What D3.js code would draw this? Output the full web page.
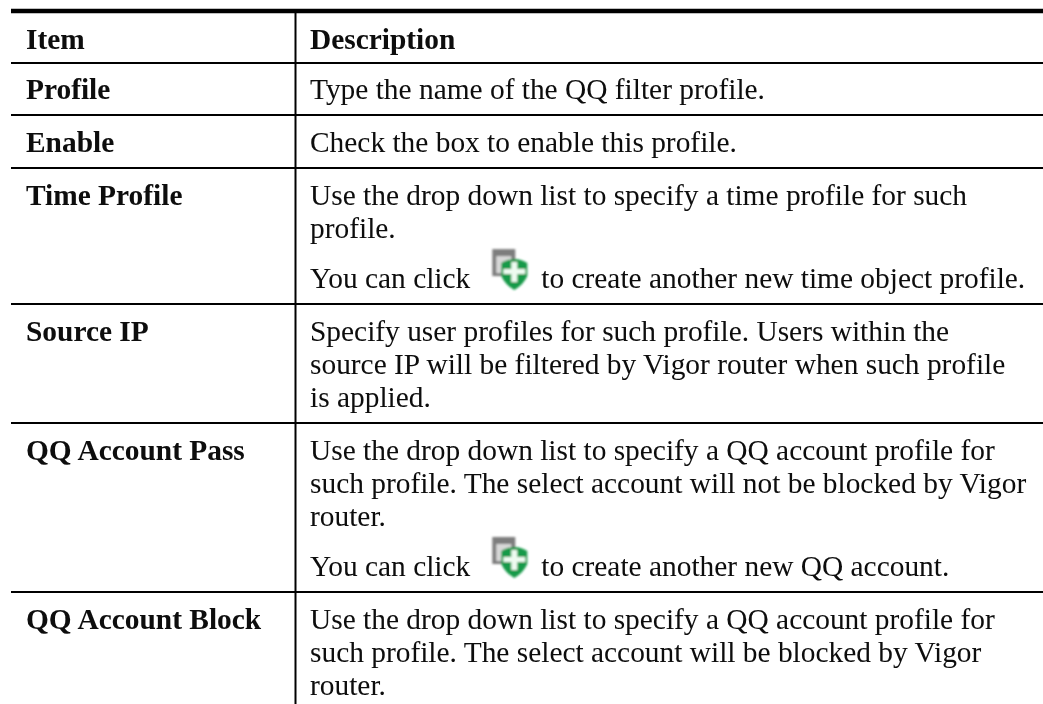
<!DOCTYPE html>
<html>
<head>
<meta charset="utf-8">
<script src="https://cdn.jsdelivr.net/npm/d3@7"></script>
<style>
html, body { margin: 0; padding: 0; background: #fff; }
svg { display: block; }
text { font-family: "Liberation Serif", serif; fill: #0a0a0a; }
</style>
</head>
<body>
<script>
var w = 1043;
var h = 704;

var headers = ["Item", "Description"];
var items = ["Profile", "Enable", "Time Profile", "Source IP", "QQ Account Pass", "QQ Account Block"];
// each description is a list of paragraphs, each paragraph a list of lines
var descriptions = [
    [["Type the name of the QQ filter profile."]],
    [["Check the box to enable this profile."]],
    [["Use the drop down list to specify a time profile for such", "profile."],
     [["You can click", "to create another new time object profile."]]],
    [["Specify user profiles for such profile. Users within the",
      "source IP will be filtered by Vigor router when such profile",
      "is applied."]],
    [["Use the drop down list to specify a QQ account profile for",
      "such profile. The select account will not be blocked by Vigor",
      "router."],
     [["You can click", "to create another new QQ account."]]],
    [["Use the drop down list to specify a QQ account profile for",
      "such profile. The select account will be blocked by Vigor",
      "router."]]
];

// layout
var left = 11;
var divider = 295.5;
var itemX = 26;
var descX = 310;
var topRule = 11;
var headerBottom = 62.7;
var fontSize = 29.4;
var firstBaseline = 36.5;
var linePitch = 33;
var paraGap = 17.5;
var bottomPad = 16.2;
var iconLeft = 22;
var iconGap = 71;

var svg = d3.select("body")
    .append("svg")
    .attr("width", w)
    .attr("height", h);

var defs = svg.append("defs");
defs.append("filter")
    .attr("id", "soft")
    .append("feGaussianBlur")
    .attr("stdDeviation", 1.3);
defs.append("filter")
    .attr("id", "softText")
    .append("feGaussianBlur")
    .attr("stdDeviation", 0.3);

function rowHeight(paras) {
    var lines = d3.sum(paras, function (p) { return p.length; });
    return firstBaseline + (lines - 1) * linePitch + (paras.length - 1) * paraGap + bottomPad;
}

var heights = descriptions.map(rowHeight);
var tops = [];
heights.reduce(function (y, v, i) {
    tops[i] = y;
    return y + v;
}, headerBottom);

// rules
svg.append("line")
    .attr("x1", left).attr("x2", w)
    .attr("y1", topRule).attr("y2", topRule)
    .attr("stroke", "black")
    .attr("stroke-width", 4.5);

svg.append("line")
    .attr("x1", divider).attr("x2", divider)
    .attr("y1", topRule).attr("y2", h)
    .attr("stroke", "black")
    .attr("stroke-width", 2);

svg.selectAll("line.row")
    .data(tops)
    .enter()
    .append("line")
    .attr("class", "row")
    .attr("x1", left).attr("x2", w)
    .attr("y1", function (d) { return Math.round(d); })
    .attr("y2", function (d) { return Math.round(d); })
    .attr("stroke", "black")
    .attr("stroke-width", 2);

var page = svg.append("g").attr("filter", "url(#softText)");

// header
page.selectAll("text.head")
    .data(headers)
    .enter()
    .append("text")
    .attr("class", "head")
    .attr("x", function (d, i) { return i === 0 ? itemX : descX; })
    .attr("y", 49)
    .attr("font-size", fontSize)
    .attr("font-weight", "bold")
    .text(function (d) { return d; });

// first column
page.selectAll("text.item")
    .data(items)
    .enter()
    .append("text")
    .attr("class", "item")
    .attr("x", itemX)
    .attr("y", function (d, i) { return tops[i] + firstBaseline; })
    .attr("font-size", fontSize)
    .attr("font-weight", "bold")
    .text(function (d) { return d; });

function drawIcon(x, y) {
    var g = svg.append("g")
        .attr("transform", "translate(" + x + "," + y + ")")
        .attr("filter", "url(#soft)");
    g.append("rect").attr("x", 0).attr("y", 0).attr("width", 23).attr("height", 27).attr("fill", "#7d7d7d");
    g.append("rect").attr("x", 4).attr("y", 7).attr("width", 15).attr("height", 17).attr("fill", "#d8d8d8");
    g.append("path")
        .attr("d", "M9 14 Q22 6 35 14 L35 27 Q31 36 22 41 Q13 36 9 27 Z")
        .attr("fill", "#189a48");
    g.append("path")
        .attr("d", "M19 13 h6 v7 h8 v5 h-8 v8 h-6 v-8 h-8 v-5 h8 Z")
        .attr("fill", "#eefbf1");
}

// second column
descriptions.forEach(function (paras, r) {
    var y = tops[r] + firstBaseline - linePitch;
    paras.forEach(function (lines) {
        lines.forEach(function (line) {
            y += linePitch;
            if (Array.isArray(line)) {
                var first = page.append("text")
                    .attr("x", descX).attr("y", y)
                    .attr("font-size", fontSize)
                    .text(line[0]);
                var end = descX + first.node().getComputedTextLength();
                drawIcon(end + iconLeft, y - 39);
                page.append("text")
                    .attr("x", end + iconGap).attr("y", y)
                    .attr("font-size", fontSize)
                    .text(line[1]);
            } else {
                page.append("text")
                    .attr("x", descX).attr("y", y)
                    .attr("font-size", fontSize)
                    .text(line);
            }
        });
        y += paraGap;
    });
});
</script>
</body>
</html>
